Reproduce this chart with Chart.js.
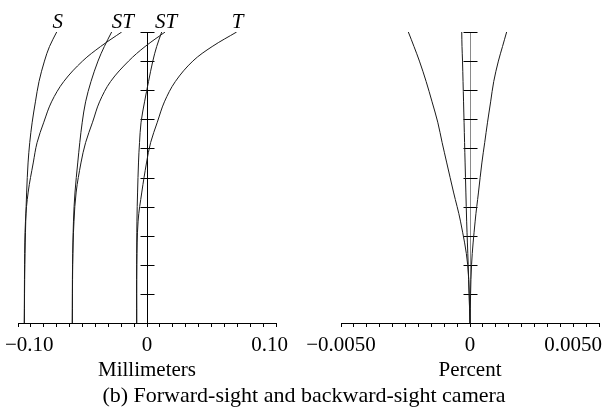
<!DOCTYPE html>
<html>
<head>
<meta charset="utf-8">
<script src="https://cdn.jsdelivr.net/npm/chart.js@4/dist/chart.umd.min.js"></script>
<style>
  html, body { margin: 0; padding: 0; background: #fff; }
  #wrap { position: relative; width: 608px; height: 419px; overflow: hidden; background: #fff; }
  canvas { position: absolute; left: 0; top: 0; }
  #caption { position: absolute; left: 0; width: 608px; top: 384px; text-align: center;
             font: 22px/22px "Liberation Serif", "Times New Roman", serif; color: #000; white-space: nowrap; }
</style>
</head>
<body>
<div id="wrap">
  <canvas id="fieldCanvas" width="608" height="419"></canvas>
  <canvas id="distCanvas" width="608" height="419"></canvas>
  <div id="caption">(b) Forward-sight and backward-sight camera</div>
</div>
<script>
// ---- data (relative field height, 0 = axis, 1 = full field) ----
const fieldFraction = [0, 0.2, 0.35, 0.45, 0.55, 0.62, 0.69, 0.76, 0.83, 0.9, 0.95, 1.0];

// field curvature, millimeters (three wavelengths, sagittal / tangential)
const sagittal1   = [-0.0951,-0.0947,-0.0940,-0.0933,-0.0922,-0.0909,-0.0890,-0.0865,-0.0837,-0.0795,-0.0756,-0.0700];
const tangential1 = [-0.0951,-0.0949,-0.0942,-0.0921,-0.0882,-0.0852,-0.0800,-0.0740,-0.0645,-0.0500,-0.0360,-0.0196];
const sagittal2   = [-0.0579,-0.0576,-0.0570,-0.0558,-0.0537,-0.0521,-0.0502,-0.0476,-0.0434,-0.0380,-0.0331,-0.0274];
const tangential2 = [-0.0579,-0.0577,-0.0566,-0.0549,-0.0512,-0.0476,-0.0422,-0.0368,-0.0282,-0.0143,-0.0015, 0.0140];
const sagittal3   = [-0.0080,-0.0080,-0.0078,-0.0073,-0.0066,-0.0058,-0.0046,-0.0019, 0.0012, 0.0045, 0.0075, 0.0114];
const tangential3 = [-0.0080,-0.0079,-0.0069,-0.0040,-0.0004, 0.0028, 0.0080, 0.0135, 0.0220, 0.0355, 0.0505, 0.0695];

// distortion, percent
const distortion1 = [0,-0.00009,-0.00037,-0.00064,-0.00090,-0.00108,-0.00125,-0.00147,-0.00170,-0.00196,-0.00217,-0.00239];
const distortion2 = [0,-0.00007,-0.00013,-0.00016,-0.00019,-0.00021,-0.00023,-0.00025,-0.00027,-0.00029,-0.00031,-0.00032];
const distortion3 = [0, 0.00006, 0.00020, 0.00033, 0.00046, 0.00057, 0.00068, 0.00080, 0.00092, 0.00110, 0.00126, 0.00142];

// curve labels (text, index of the curve they sit on)
const curveLabels = ['S', 'ST', 'ST', 'T'];
const curveLabelSeries = [0, 1, 3, 5];

// tick labels
const mmTickValues = [-0.1, 0, 0.1];
const mmTickLabels = ['\u22120.10', '0', '0.10'];
const pctTickValues = [-0.005, 0, 0.005];
const pctTickLabels = ['\u22120.0050', '0', '0.0050'];

const fieldTicks = [0.1, 0.2, 0.3, 0.4, 0.5, 0.6, 0.7, 0.8, 0.9, 1.0];

// ---- helpers ----
const SERIF = '"Liberation Serif", "Times New Roman", serif';
const CURVE_COLOR = '#1a1a1a';

function toPoints(xs) { return xs.map((x, i) => ({ x: x, y: fieldFraction[i] })); }
function curve(xs) {
  return { data: toPoints(xs), showLine: true, borderColor: CURVE_COLOR, borderWidth: 1,
           pointRadius: 0, fill: false, tension: 0.35 };
}

// vertical axis through x = 0 with cross ticks, drawn through the chart's scales
const crossAxisPlugin = {
  id: 'crossAxis',
  beforeDatasetsDraw(chart, args, opts) {
    const { ctx, chartArea, scales: { x, y } } = chart;
    const px = Math.round(x.getPixelForValue(0)) + 0.5;
    ctx.save();
    ctx.lineWidth = 1;
    ctx.strokeStyle = opts.axisColor;
    ctx.beginPath();
    ctx.moveTo(px, chartArea.bottom);
    ctx.lineTo(px, chartArea.top);
    ctx.stroke();
    ctx.strokeStyle = opts.tickColor;
    ctx.beginPath();
    fieldTicks.forEach(v => {
      const py = Math.round(y.getPixelForValue(v)) + 0.5;
      ctx.moveTo(px - 7, py);
      ctx.lineTo(px + 7, py);
    });
    ctx.stroke();
    ctx.restore();
  }
};

// tick labels, centred on their ticks but kept inside the panel
const tickLabelPlugin = {
  id: 'tickLabels',
  afterDraw(chart, args, opts) {
    const { ctx, chartArea, scales: { x } } = chart;
    ctx.save();
    ctx.font = '21px ' + SERIF;
    ctx.fillStyle = '#000';
    ctx.textBaseline = 'alphabetic';
    ctx.textAlign = 'left';
    opts.values.forEach((v, i) => {
      const t = opts.labels[i];
      const w = ctx.measureText(t).width;
      let left = x.getPixelForValue(v) - w / 2;
      left = Math.max(opts.minX, Math.min(opts.maxX - w, left));
      ctx.fillText(t, left, chartArea.bottom + 28);
    });
    ctx.restore();
  }
};

// S / T labels above the top end of curves
const curveLabelPlugin = {
  id: 'curveLabels',
  afterDatasetsDraw(chart, args, opts) {
    if (!opts.labels) return;
    const { ctx } = chart;
    ctx.save();
    ctx.font = 'italic 21px ' + SERIF;
    ctx.fillStyle = '#000';
    ctx.textAlign = 'center';
    ctx.textBaseline = 'alphabetic';
    opts.labels.forEach((t, i) => {
      const meta = chart.getDatasetMeta(opts.series[i]);
      const top = meta.data[meta.data.length - 1];
      ctx.fillText(t, top.x + 1, top.y - 4);
    });
    ctx.restore();
  }
};

function baseOptions(min, max, step, title, padding, axisColor, tickLabelOpts, labelOpts) {
  return {
    responsive: false,
    animation: false,
    devicePixelRatio: 1,
    layout: { padding: padding },
    plugins: {
      legend: { display: false },
      tooltip: { enabled: false },
      crossAxis: { axisColor: axisColor, tickColor: '#000' },
      tickLabels: tickLabelOpts,
      curveLabels: labelOpts
    },
    scales: {
      x: {
        type: 'linear', min: min, max: max,
        ticks: { stepSize: step, display: false, autoSkip: false },
        grid: { drawOnChartArea: false, drawTicks: true, tickLength: 4, tickColor: '#000', tickWidth: 1 },
        border: { display: true, color: '#000', width: 1 },
        title: { display: true, text: title, color: '#000',
                 font: { family: SERIF, size: 21, lineHeight: 1.2 },
                 padding: { top: 31, bottom: 0 } }
      },
      y: { type: 'linear', min: 0, max: 1, display: false, ticks: { stepSize: 0.1 } }
    }
  };
}

new Chart(document.getElementById('fieldCanvas'), {
  type: 'scatter',
  data: { datasets: [curve(sagittal1), curve(tangential1), curve(sagittal2),
                     curve(tangential2), curve(sagittal3), curve(tangential3)] },
  options: baseOptions(-0.1, 0.1, 0.01, 'Millimeters',
    { left: 18, right: 332, top: 32, bottom: 35.8 }, '#000',
    { values: mmTickValues, labels: mmTickLabels, minX: 5, maxX: 288 },
    { labels: curveLabels, series: curveLabelSeries }),
  plugins: [crossAxisPlugin, tickLabelPlugin, curveLabelPlugin]
});

new Chart(document.getElementById('distCanvas'), {
  type: 'scatter',
  data: { datasets: [curve(distortion1), curve(distortion2), curve(distortion3)] },
  options: baseOptions(-0.005, 0.005, 0.0005, 'Percent',
    { left: 341, right: 9, top: 32, bottom: 35.8 }, '#8a8a8a',
    { values: pctTickValues, labels: pctTickLabels, minX: 303, maxX: 602 },
    {}),
  plugins: [crossAxisPlugin, tickLabelPlugin, curveLabelPlugin]
});
</script>
</body>
</html>
